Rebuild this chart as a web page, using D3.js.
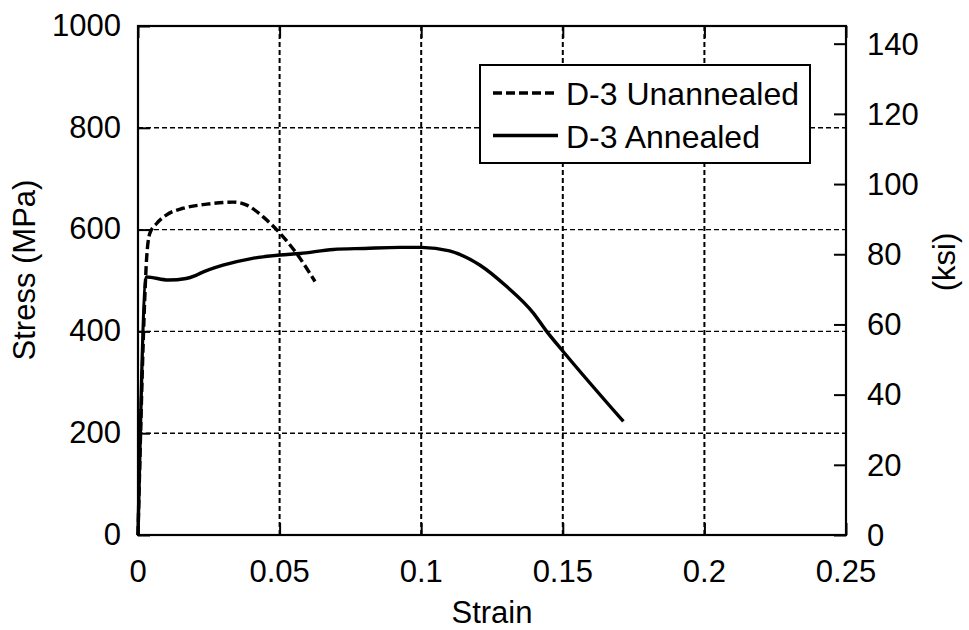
<!DOCTYPE html>
<html>
<head>
<meta charset="utf-8">
<script src="https://cdn.jsdelivr.net/npm/d3@7/dist/d3.min.js"></script>
<style>
  html, body { margin: 0; padding: 0; background: #fff; }
  svg text { font-family: "Liberation Sans", Arial, Helvetica, sans-serif; fill: #000; }
</style>
</head>
<body>
<svg id="chart" width="969" height="630"></svg>
<script>
// Tensile test curves for specimen D-3
const unannealedStrain = [0, 0.0025, 0.003, 0.0042, 0.0066, 0.0101, 0.016, 0.0243, 0.0337, 0.0384, 0.0442, 0.0501, 0.056, 0.0625];
const unannealedStress = [0, 480, 540, 593, 612, 629, 642, 650, 654, 648, 625, 593, 553, 498];

const annealedStrain = [0, 0.003, 0.0107, 0.017, 0.020, 0.0219, 0.030, 0.040, 0.0501, 0.0572, 0.069, 0.080, 0.0925, 0.1002, 0.110, 0.1208, 0.1302, 0.1396, 0.1443, 0.1502, 0.1714];
const annealedStress = [0, 507, 501, 504, 509, 514, 530, 543, 550, 553, 561, 563, 565, 565, 558, 530, 488, 436, 400, 360, 223];

const seriesNames = ["D-3 Unannealed", "D-3 Annealed"];

const strainTicks = [0, 0.05, 0.1, 0.15, 0.2, 0.25];
const stressTicks = [0, 200, 400, 600, 800, 1000];
const ksiTicks = [0, 20, 40, 60, 80, 100, 120, 140];
const MPA_PER_KSI = 6.894757;

const svg = d3.select("#chart");
const plotL = 138, plotR = 846, plotT = 26, plotB = 535;
const FS = 31;

const x = d3.scaleLinear().domain([0, 0.25]).range([plotL, plotR]);
const y = d3.scaleLinear().domain([0, 1000]).range([plotB, plotT]);
const yKsi = d3.scaleLinear().domain([0, 1000 / MPA_PER_KSI]).range([plotB, plotT]);

// grid
svg.append("g").selectAll("line").data(strainTicks.slice(1, -1)).join("line")
  .attr("x1", d => x(d)).attr("x2", d => x(d))
  .attr("y1", plotT).attr("y2", plotB)
  .attr("stroke", "#000").attr("stroke-width", 2).attr("stroke-dasharray", "5,3");
svg.append("g").selectAll("line").data(stressTicks.slice(1, -1)).join("line")
  .attr("x1", plotL).attr("x2", plotR)
  .attr("y1", d => y(d)).attr("y2", d => y(d))
  .attr("stroke", "#000").attr("stroke-width", 1.4).attr("stroke-dasharray", "5,3");

// axes with inward ticks
const axB = svg.append("g").attr("transform", `translate(0,${plotB})`)
  .call(d3.axisTop(x).tickValues(strainTicks).tickSize(12).tickFormat(""));
const axT = svg.append("g").attr("transform", `translate(0,${plotT})`)
  .call(d3.axisBottom(x).tickValues(strainTicks).tickSize(12).tickFormat(""));
const axL = svg.append("g").attr("transform", `translate(${plotL},0)`)
  .call(d3.axisRight(y).tickValues(stressTicks).tickSize(12).tickFormat(""));
const axR = svg.append("g").attr("transform", `translate(${plotR},0)`)
  .call(d3.axisLeft(yKsi).tickValues(ksiTicks).tickSize(12).tickFormat(""));
[axB, axT, axL, axR].forEach(g => {
  g.select(".domain").remove();
  g.selectAll(".tick line").attr("stroke", "#000").attr("stroke-width", 2);
});

// frame
svg.append("rect").attr("x", plotL).attr("y", plotT)
  .attr("width", plotR - plotL).attr("height", plotB - plotT)
  .attr("fill", "none").attr("stroke", "#000").attr("stroke-width", 2.2);

// tick labels
svg.append("g").selectAll("text").data(strainTicks).join("text")
  .attr("x", d => x(d)).attr("y", 582)
  .attr("text-anchor", "middle").attr("font-size", FS)
  .text(d => String(d));
svg.append("g").selectAll("text").data(stressTicks).join("text")
  .attr("x", 121).attr("y", d => y(d) - 1)
  .attr("dy", "0.35em")
  .attr("text-anchor", "end").attr("font-size", FS)
  .text(d => d);
svg.append("g").selectAll("text").data(ksiTicks).join("text")
  .attr("x", 867).attr("y", d => yKsi(d))
  .attr("dy", "0.35em")
  .attr("text-anchor", "start").attr("font-size", FS)
  .text(d => d);

// axis titles
svg.append("text").attr("x", (plotL + plotR) / 2).attr("y", 623)
  .attr("text-anchor", "middle").attr("font-size", FS).text("Strain");
svg.append("text").attr("transform", "translate(35,270) rotate(-90)")
  .attr("text-anchor", "middle").attr("font-size", FS).text("Stress (MPa)");
svg.append("text").attr("transform", "translate(955,262) rotate(-90)")
  .attr("text-anchor", "middle").attr("font-size", FS).text("(ksi)");

// curves
const line = d3.line().curve(d3.curveMonotoneX).x(d => x(d[0])).y(d => y(d[1]));
const unannealed = d3.zip(unannealedStrain, unannealedStress);
const annealed = d3.zip(annealedStrain, annealedStress);

svg.append("path").datum(annealed).attr("d", line)
  .attr("fill", "none").attr("stroke", "#000").attr("stroke-width", 3.4)
  .attr("stroke-linejoin", "round");
svg.append("path").datum(unannealed).attr("d", line)
  .attr("fill", "none").attr("stroke", "#000").attr("stroke-width", 3.4)
  .attr("stroke-dasharray", "9,4");

// legend
const lg = svg.append("g");
lg.append("rect").attr("x", 480).attr("y", 65).attr("width", 330).attr("height", 98)
  .attr("fill", "#fff").attr("stroke", "#000").attr("stroke-width", 2);
const styles = ["9,4", null];
seriesNames.forEach((name, i) => {
  const cy = 93 + i * 42.5;
  lg.append("line").attr("x1", 493).attr("x2", 558).attr("y1", cy).attr("y2", cy)
    .attr("stroke", "#000").attr("stroke-width", 3.4)
    .attr("stroke-dasharray", styles[i]);
  lg.append("text").attr("x", 566).attr("y", cy + 12)
    .attr("font-size", 32).text(name);
});
</script>
</body>
</html>
